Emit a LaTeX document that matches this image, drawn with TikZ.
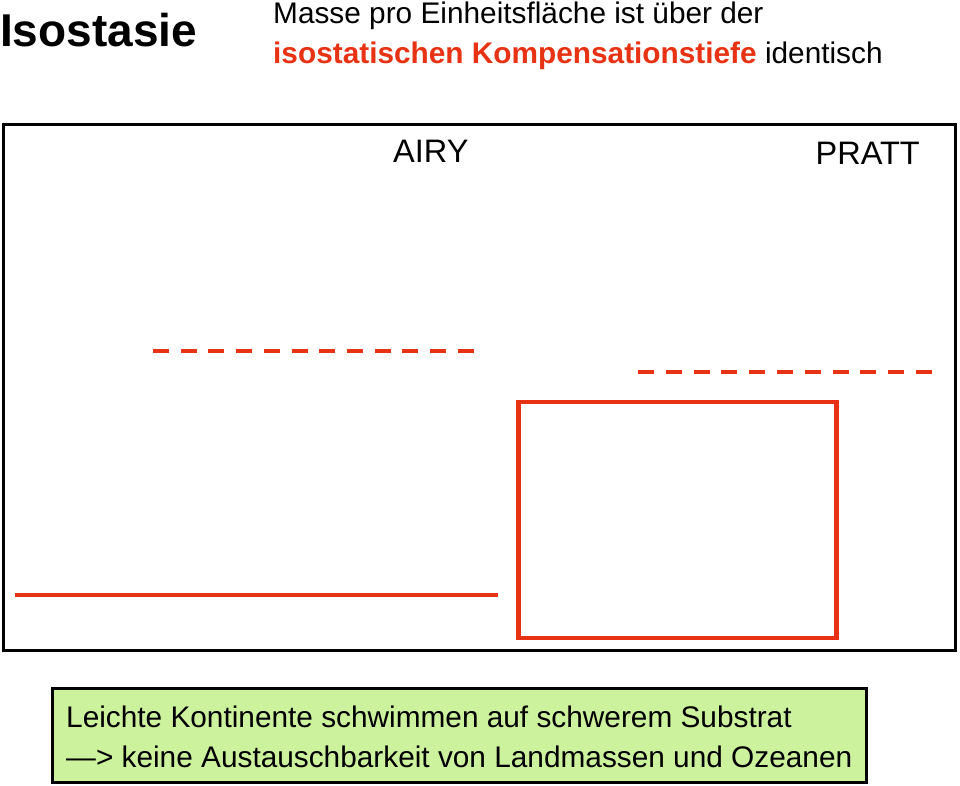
\documentclass[tikz,border=0pt]{standalone}
\usepackage{fontspec}
\setmainfont{Liberation Sans}
\definecolor{geored}{RGB}{232,50,20}
\definecolor{boxgreen}{RGB}{204,242,158}
\begin{document}
\begin{tikzpicture}[x=1pt,y=-1pt,
  txt/.style={inner sep=0pt, anchor=base west},
  bigtxt/.style={txt, font=\fontsize{29.8}{35}\selectfont},
  labeltxt/.style={txt, font=\fontsize{32.5}{38}\selectfont},
  frame/.style={draw=black, line width=3pt},
  redline/.style={draw=geored, line width=4.5pt}]
\useasboundingbox (0,0) rectangle (960,785);
% title
\node[txt, font=\fontsize{46}{54}\selectfont\bfseries] (title) at (0,46) {Isostasie};
\node[bigtxt] (sub1) at (273,23) {Masse pro Einheitsfläche ist über der};
\node[bigtxt] (sub2) at (273,63) {\textcolor{geored}{\bfseries isostatischen Kompensationstiefe} identisch};
% main frame
\coordinate (frameNW) at (3.5,124.5);
\coordinate (frameSE) at (955.5,650.5);
\draw[frame] (frameNW) rectangle (frameSE);
\node[labeltxt] (airy) at (393,162) {AIRY};
\node[labeltxt] (pratt) at (815.5,164) {PRATT};
% Airy: compensation depth (dashed) and surface line
\coordinate (airyDash) at (153,351);
\foreach \k in {0,...,11}
  \draw[redline] ([xshift=\k*27.7pt]airyDash) -- ++(16,0);
\coordinate (airyLineL) at (15,595);
\coordinate (airyLineR) at (498,595);
\draw[redline] (airyLineL) -- (airyLineR);
% Pratt: compensation depth (dashed) and block
\coordinate (prattDash) at (638,372);
\foreach \k in {0,...,10}
  \draw[redline] ([xshift=\k*27.8pt]prattDash) -- ++(16,0);
\coordinate (prattBoxNW) at (518.5,402);
\coordinate (prattBoxSE) at (836.5,638);
\draw[redline] (prattBoxNW) rectangle (prattBoxSE);
% bottom box
\coordinate (noteNW) at (52.5,688.5);
\coordinate (noteSE) at (866,782);
\draw[frame, fill=boxgreen] (noteNW) rectangle (noteSE);
\node[bigtxt] (note1) at (66,727) {Leichte Kontinente schwimmen auf schwerem Substrat};
\node[bigtxt] (note2) at (66,767) {—> keine Austauschbarkeit von Landmassen und Ozeanen};
\end{tikzpicture}
\end{document}
